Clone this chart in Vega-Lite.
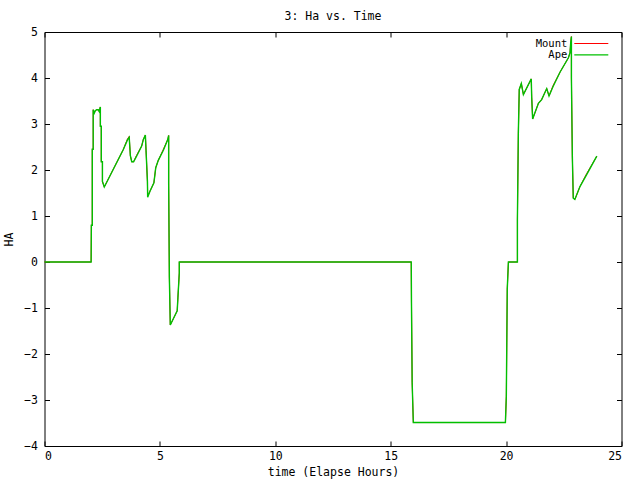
{
  "$schema": "https://vega.github.io/schema/vega-lite/v6.json",
  "width": 577,
  "height": 414,
  "autosize": {"type": "none"},
  "padding": {"left": 44.5, "top": 32, "right": 18.5, "bottom": 34},
  "background": "white",
  "title": {"text": "3: Ha vs. Time", "font": "DejaVu Sans Mono", "fontSize": 11.5, "fontWeight": "normal", "color": "black", "offset": 3.5, "anchor": "middle"},
  "config": {
    "view": {"stroke": "black", "strokeWidth": 1},
    "axis": {
      "grid": false, "domain": false,
      "tickColor": "black", "tickSize": -5, "tickWidth": 1,
      "labelFont": "DejaVu Sans Mono", "labelFontSize": 11.5, "labelColor": "black",
      "titleFont": "DejaVu Sans Mono", "titleFontSize": 11.5, "titleColor": "black", "titleFontWeight": "normal"
    },
    "legend": {"title": null, "orient": "none", "padding": 0,
               "symbolType": "stroke", "symbolSize": 1156, "symbolStrokeWidth": 1.2,
               "labelAlign": "right", "labelOffset": -42,
               "labelFont": "DejaVu Sans Mono", "labelFontSize": 10.5, "labelColor": "black"}
  },
  "data": {"values": [
    {"i": 0, "t": 0, "Mount": 0, "Ape": 0},
    {"i": 1, "t": 2.02, "Mount": 0, "Ape": 0},
    {"i": 2, "t": 2.03, "Mount": 0.80, "Ape": 0.80},
    {"i": 3, "t": 2.07, "Mount": 0.80, "Ape": 0.80},
    {"i": 4, "t": 2.07, "Mount": 2.45, "Ape": 2.45},
    {"i": 5, "t": 2.11, "Mount": 2.45, "Ape": 2.45},
    {"i": 6, "t": 2.11, "Mount": 3.31, "Ape": 3.31},
    {"i": 7, "t": 2.16, "Mount": 3.24, "Ape": 3.24},
    {"i": 8, "t": 2.20, "Mount": 3.29, "Ape": 3.29},
    {"i": 9, "t": 2.26, "Mount": 3.31, "Ape": 3.31},
    {"i": 10, "t": 2.33, "Mount": 3.31, "Ape": 3.31},
    {"i": 11, "t": 2.37, "Mount": 3.27, "Ape": 3.27},
    {"i": 12, "t": 2.42, "Mount": 3.37, "Ape": 3.37},
    {"i": 13, "t": 2.42, "Mount": 2.95, "Ape": 2.95},
    {"i": 14, "t": 2.46, "Mount": 2.95, "Ape": 2.95},
    {"i": 15, "t": 2.46, "Mount": 2.18, "Ape": 2.18},
    {"i": 16, "t": 2.51, "Mount": 2.18, "Ape": 2.18},
    {"i": 17, "t": 2.51, "Mount": 1.75, "Ape": 1.75},
    {"i": 18, "t": 2.59, "Mount": 1.63, "Ape": 1.63},
    {"i": 19, "t": 3.41, "Mount": 2.44, "Ape": 2.44},
    {"i": 20, "t": 3.60, "Mount": 2.68, "Ape": 2.66},
    {"i": 21, "t": 3.67, "Mount": 2.73, "Ape": 2.71},
    {"i": 22, "t": 3.72, "Mount": 2.31, "Ape": 2.31},
    {"i": 23, "t": 3.78, "Mount": 2.18, "Ape": 2.18},
    {"i": 24, "t": 3.86, "Mount": 2.18, "Ape": 2.18},
    {"i": 25, "t": 3.99, "Mount": 2.32, "Ape": 2.30},
    {"i": 26, "t": 4.21, "Mount": 2.52, "Ape": 2.52},
    {"i": 27, "t": 4.28, "Mount": 2.66, "Ape": 2.66},
    {"i": 28, "t": 4.37, "Mount": 2.76, "Ape": 2.76},
    {"i": 29, "t": 4.40, "Mount": 2.42, "Ape": 2.42},
    {"i": 30, "t": 4.46, "Mount": 1.75, "Ape": 1.75},
    {"i": 31, "t": 4.47, "Mount": 1.43, "Ape": 1.41},
    {"i": 32, "t": 4.57, "Mount": 1.54, "Ape": 1.54},
    {"i": 33, "t": 4.74, "Mount": 1.72, "Ape": 1.72},
    {"i": 34, "t": 4.82, "Mount": 2.05, "Ape": 2.05},
    {"i": 35, "t": 4.93, "Mount": 2.21, "Ape": 2.21},
    {"i": 36, "t": 5.15, "Mount": 2.45, "Ape": 2.43},
    {"i": 37, "t": 5.34, "Mount": 2.66, "Ape": 2.66},
    {"i": 38, "t": 5.38, "Mount": 2.75, "Ape": 2.75},
    {"i": 39, "t": 5.38, "Mount": 1.72, "Ape": 1.72},
    {"i": 40, "t": 5.41, "Mount": -0.33, "Ape": -0.33},
    {"i": 41, "t": 5.45, "Mount": -1.37, "Ape": -1.37},
    {"i": 42, "t": 5.75, "Mount": -1.06, "Ape": -1.06},
    {"i": 43, "t": 5.78, "Mount": -0.78, "Ape": -0.78},
    {"i": 44, "t": 5.84, "Mount": -0.24, "Ape": -0.24},
    {"i": 45, "t": 5.84, "Mount": 0, "Ape": 0},
    {"i": 46, "t": 15.89, "Mount": 0, "Ape": 0},
    {"i": 47, "t": 15.90, "Mount": -0.88, "Ape": -0.88},
    {"i": 48, "t": 15.93, "Mount": -2.62, "Ape": -2.62},
    {"i": 49, "t": 15.98, "Mount": -3.49, "Ape": -3.49},
    {"i": 50, "t": 19.97, "Mount": -3.49, "Ape": -3.49},
    {"i": 51, "t": 20.01, "Mount": -2.92, "Ape": -2.92},
    {"i": 52, "t": 20.03, "Mount": -1.76, "Ape": -1.76},
    {"i": 53, "t": 20.05, "Mount": -0.59, "Ape": -0.59},
    {"i": 54, "t": 20.10, "Mount": 0, "Ape": 0},
    {"i": 55, "t": 20.49, "Mount": 0, "Ape": 0},
    {"i": 56, "t": 20.49, "Mount": 0.92, "Ape": 0.92},
    {"i": 57, "t": 20.53, "Mount": 2.79, "Ape": 2.79},
    {"i": 58, "t": 20.57, "Mount": 3.75, "Ape": 3.75},
    {"i": 59, "t": 20.66, "Mount": 3.88, "Ape": 3.88},
    {"i": 60, "t": 20.75, "Mount": 3.64, "Ape": 3.64},
    {"i": 61, "t": 21.09, "Mount": 3.98, "Ape": 3.98},
    {"i": 62, "t": 21.11, "Mount": 3.57, "Ape": 3.57},
    {"i": 63, "t": 21.15, "Mount": 3.11, "Ape": 3.11},
    {"i": 64, "t": 21.40, "Mount": 3.45, "Ape": 3.45},
    {"i": 65, "t": 21.54, "Mount": 3.53, "Ape": 3.53},
    {"i": 66, "t": 21.76, "Mount": 3.77, "Ape": 3.77},
    {"i": 67, "t": 21.86, "Mount": 3.61, "Ape": 3.61},
    {"i": 68, "t": 22.04, "Mount": 3.84, "Ape": 3.82},
    {"i": 69, "t": 22.34, "Mount": 4.13, "Ape": 4.13},
    {"i": 70, "t": 22.70, "Mount": 4.44, "Ape": 4.44},
    {"i": 71, "t": 22.77, "Mount": 4.55, "Ape": 4.55},
    {"i": 72, "t": 22.80, "Mount": 4.77, "Ape": 4.77},
    {"i": 73, "t": 22.83, "Mount": 4.90, "Ape": 4.90},
    {"i": 74, "t": 22.83, "Mount": 4.01, "Ape": 4.01},
    {"i": 75, "t": 22.87, "Mount": 2.30, "Ape": 2.30},
    {"i": 76, "t": 22.91, "Mount": 1.39, "Ape": 1.39},
    {"i": 77, "t": 22.98, "Mount": 1.36, "Ape": 1.36},
    {"i": 78, "t": 23.20, "Mount": 1.64, "Ape": 1.64},
    {"i": 79, "t": 23.49, "Mount": 1.92, "Ape": 1.90},
    {"i": 80, "t": 23.93, "Mount": 2.30, "Ape": 2.30}
  ]},
  "layer": [
    {
      "mark": {"type": "line", "strokeWidth": 1, "color": "#ff0000"},
      "encoding": {
        "x": {"field": "t", "type": "quantitative", "scale": {"domain": [0, 25], "nice": false},
              "axis": {"orient": "bottom", "values": [0, 5, 10, 15, 20, 25], "title": "time (Elapse Hours)", "labelPadding": 9, "titlePadding": 5}},
        "y": {"field": "Mount", "type": "quantitative", "scale": {"domain": [-4, 5], "nice": false},
              "axis": {"orient": "left", "values": [-4, -3, -2, -1, 0, 1, 2, 3, 4, 5], "title": "HA", "labelPadding": 12, "titlePadding": 9}},
        "order": {"field": "i", "type": "quantitative"},
        "color": {"datum": "Mount", "type": "nominal",
                  "scale": {"domain": ["Mount"], "range": ["#ff0000"]},
                  "legend": {"legendX": 528.8, "legendY": -6.5}}
      }
    },
    {
      "mark": {"type": "line", "strokeWidth": 1.4},
      "encoding": {
        "x": {"field": "t", "type": "quantitative",
              "axis": {"orient": "top", "values": [0, 5, 10, 15, 20, 25], "labels": false, "title": null}},
        "y": {"field": "Ape", "type": "quantitative",
              "axis": {"orient": "right", "values": [-4, -3, -2, -1, 0, 1, 2, 3, 4, 5], "labels": false, "title": null}},
        "order": {"field": "i", "type": "quantitative"},
        "color": {"datum": "Ape", "type": "nominal",
                  "scale": {"domain": ["Ape"], "range": ["#00c000"]},
                  "legend": {"legendX": 528.8, "legendY": 4.8}}
      }
    }
  ],
  "resolve": {"axis": {"x": "independent", "y": "independent"}, "scale": {"color": "independent"}}
}
